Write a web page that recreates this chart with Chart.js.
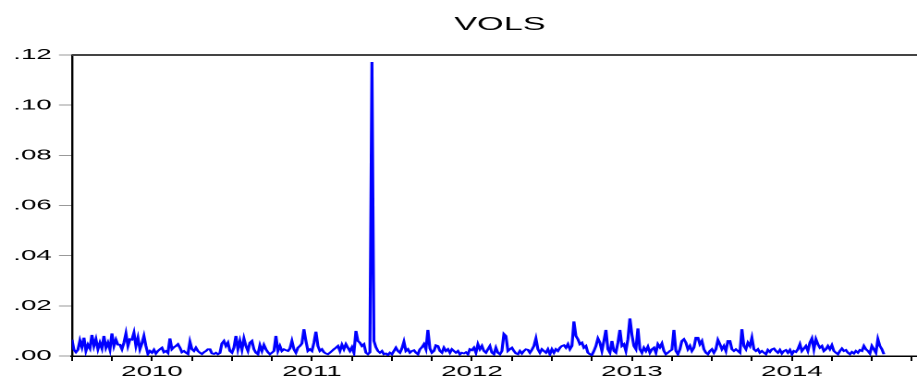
<!DOCTYPE html>
<html><head><meta charset="utf-8">
<script src="https://cdn.jsdelivr.net/npm/chart.js@4.4.1/dist/chart.umd.min.js"></script>
<style>
html,body{margin:0;padding:0;background:#fff;overflow:hidden;width:917px;height:380px}
#wrap{position:absolute;left:0;top:0;width:496px;height:380px;transform:scaleX(1.84879);transform-origin:0 0}
</style></head><body>
<div id="wrap"><canvas id="c" width="496" height="380"></canvas></div>
<script>
const chartTitle = 'VOLS';
const years = [2010, 2011, 2012, 2013, 2014, 2015];
const yearLabels = ['2010', '2011', '2012', '2013', '2014'];
const yTickValues = [0, 0.02, 0.04, 0.06, 0.08, 0.10, 0.12];
const yTickLabels = ['.00', '.02', '.04', '.06', '.08', '.10', '.12'];
const pointsPerYear = 80;

const vols2010 = [.0065,.0025,.0015,.0025,.0062,.0035,.0073,.0020,.0045,.0030,
  .0084,.0040,.0067,.0027,.0053,.0030,.0080,.0033,.0053,.0025,
  .0090,.0040,.0065,.0045,.0045,.0027,.0053,.0090,.0040,.0067,
  .0065,.0093,.0040,.0073,.0027,.0050,.0080,.0040,.0008,.0020,
  .0013,.0025,.0010,.0020,.0027,.0033,.0015,.0020,.0012,.0070,
  .0027,.0035,.0040,.0047,.0033,.0015,.0020,.0013,.0008,.0057,
  .0027,.0020,.0033,.0020,.0013,.0008,.0015,.0020,.0027,.0027,
  .0010,.0008,.0013,.0007,.0012,.0050,.0060,.0040,.0053,.0020];
const vols2011 = [.0013,.0033,.0080,.0027,.0060,.0025,.0070,.0040,.0020,.0053,
  .0060,.0027,.0013,.0007,.0043,.0020,.0044,.0027,.0015,.0007,
  .0013,.0020,.0080,.0020,.0040,.0020,.0027,.0023,.0020,.0030,
  .0060,.0027,.0013,.0033,.0040,.0050,.0107,.0060,.0020,.0027,
  .0020,.0053,.0097,.0040,.0020,.0027,.0015,.0010,.0007,.0013,
  .0020,.0027,.0033,.0040,.0020,.0045,.0027,.0047,.0033,.0020,
  .0035,.0013,.0100,.0060,.0053,.0040,.0047,.0013,.0007,.0015,
  .1172,.0060,.0035,.0020,.0013,.0020,.0007,.0010,.0004,.0013];
const vols2012 = [.0007,.0020,.0033,.0020,.0013,.0030,.0057,.0020,.0027,.0013,
  .0020,.0023,.0013,.0007,.0027,.0035,.0047,.0027,.0104,.0030,
  .0013,.0020,.0043,.0040,.0020,.0013,.0033,.0020,.0027,.0013,
  .0027,.0020,.0013,.0020,.0007,.0013,.0010,.0015,.0007,.0027,
  .0023,.0033,.0013,.0047,.0027,.0040,.0020,.0013,.0027,.0040,
  .0013,.0007,.0033,.0013,.0007,.0020,.0088,.0080,.0020,.0027,
  .0033,.0020,.0010,.0007,.0020,.0010,.0020,.0027,.0025,.0013,
  .0025,.0040,.0070,.0027,.0013,.0027,.0020,.0013,.0027,.0007];
const vols2013 = [.0027,.0013,.0027,.0020,.0033,.0040,.0043,.0033,.0047,.0027,
  .0040,.0138,.0080,.0067,.0047,.0053,.0033,.0040,.0013,.0007,
  .0004,.0020,.0040,.0070,.0053,.0020,.0060,.0104,.0027,.0013,
  .0060,.0020,.0013,.0053,.0104,.0040,.0047,.0020,.0067,.0150,
  .0085,.0040,.0027,.0110,.0027,.0013,.0033,.0020,.0037,.0013,
  .0027,.0033,.0013,.0047,.0035,.0050,.0020,.0007,.0013,.0020,
  .0025,.0104,.0020,.0007,.0027,.0060,.0067,.0053,.0027,.0040,
  .0020,.0033,.0073,.0073,.0047,.0060,.0027,.0013,.0007,.0020];
const vols2014 = [.0027,.0013,.0027,.0064,.0047,.0027,.0040,.0020,.0060,.0060,
  .0027,.0020,.0027,.0020,.0013,.0107,.0040,.0027,.0053,.0040,
  .0073,.0027,.0020,.0027,.0013,.0020,.0013,.0007,.0024,.0016,
  .0027,.0030,.0020,.0013,.0024,.0010,.0020,.0024,.0013,.0024,
  .0007,.0020,.0016,.0027,.0047,.0020,.0030,.0040,.0020,.0053,
  .0070,.0027,.0067,.0047,.0033,.0040,.0020,.0027,.0040,.0027,
  .0043,.0020,.0013,.0007,.0020,.0030,.0020,.0024,.0013,.0007,
  .0016,.0010,.0020,.0013,.0024,.0020,.0040,.0027,.0020,.0010];
const vols2015 = [.0040,.0027,.0013,.0067,.0040,.0027,.0007];

const seriesByYear = [vols2010, vols2011, vols2012, vols2013, vols2014, vols2015];
const points = [];
seriesByYear.forEach((arr, k) => arr.forEach((v, i) => points.push({x: years[k] + i / pointsPerYear, y: v})));

const quarterTicks = [];
years.forEach(y => [0, 0.25, 0.5, 0.75].forEach(q => { if (y + q <= 2015.25) quarterTicks.push(y + q); }));

const FONT = 'Liberation Sans, Arial, Helvetica, sans-serif';

const topBorder = {
  id: 'topBorder',
  afterDraw(c) {
    const {ctx, chartArea: a} = c;
    ctx.save();
    ctx.strokeStyle = '#444';
    ctx.lineWidth = 2;
    ctx.beginPath();
    ctx.moveTo(a.left, a.top);
    ctx.lineTo(a.right, a.top);
    ctx.stroke();
    ctx.restore();
  }
};

new Chart(document.getElementById('c'), {
  type: 'line',
  data: {datasets: [{data: points, borderColor: '#0000ff', borderWidth: 1.6, pointRadius: 0, tension: 0, fill: false}]},
  options: {
    responsive: false,
    devicePixelRatio: 2,
    animation: false,
    layout: {padding: {left: 0, right: -44.8, top: 0, bottom: 0}},
    plugins: {
      legend: {display: false},
      tooltip: {enabled: false},
      title: {display: true, text: chartTitle, color: '#000',
        font: {family: FONT, size: 18.5, weight: 'normal'},
        padding: {top: 14, bottom: 18.8}}
    },
    scales: {
      x: {
        type: 'linear', min: 2010, max: 2015.282,
        afterBuildTicks: s => { s.ticks = quarterTicks.map(v => ({value: v})); },
        afterFit: s => { s.height = 24; },
        ticks: {autoSkip: false, maxRotation: 0, minRotation: 0, padding: 2, color: '#000',
          font: {family: FONT, size: 15},
          callback: v => {
            const f = v - Math.floor(v);
            return Math.abs(f - 0.5) < 1e-6 ? (yearLabels[Math.floor(v) - 2010] || '') : '';
          }},
        grid: {drawOnChartArea: false, drawTicks: true, tickLength: 5, color: '#000', tickColor: '#000', tickWidth: 1},
        border: {display: true, color: '#000', width: 1.5}
      },
      y: {
        min: 0, max: 0.12,
        afterBuildTicks: s => { s.ticks = yTickValues.map(v => ({value: v})); },
        afterFit: s => { s.width = 38.9; },
        ticks: {padding: 3.9, color: '#000', font: {family: FONT, size: 15},
          callback: (v, i) => yTickLabels[i]},
        grid: {drawOnChartArea: false, drawTicks: true, tickLength: 7, color: '#999', tickColor: '#999'},
        border: {display: true, color: '#000', width: 1.2}
      }
    }
  },
  plugins: [topBorder]
});
</script>
</body></html>
